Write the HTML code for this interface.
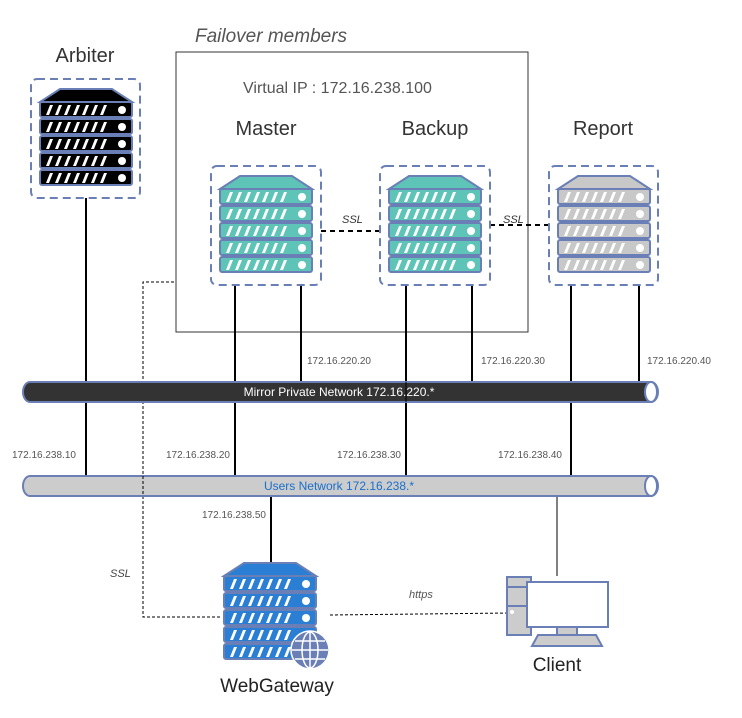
<!DOCTYPE html>
<html><head><meta charset="utf-8"><style>
body{margin:0;background:#fff}
svg{display:block;font-family:"Liberation Sans",sans-serif}
</style></head><body>
<svg width="742" height="718" viewBox="0 0 742 718" xmlns="http://www.w3.org/2000/svg">
<defs>
<g id="stripes" fill="#fff">
<polygon points="6,13 10,3 13,3 9,13"/><polygon points="15,13 19,3 22,3 18,13"/><polygon points="24,13 28,3 31,3 27,13"/><polygon points="33,13 37,3 40,3 36,13"/><polygon points="42,13 46,3 49,3 45,13"/><polygon points="51,13 55,3 58,3 54,13"/><polygon points="60,13 64,3 67,3 63,13"/>
<circle cx="82" cy="8" r="4"/>
</g>
<g id="srv" stroke="#6a7fb5" stroke-width="2">
<polygon points="0,14 20,1 72,1 92,14"/>
<rect x="0" y="14" width="92" height="15" rx="2"/>
<rect x="0" y="31" width="92" height="15" rx="2"/>
<rect x="0" y="48" width="92" height="15" rx="2"/>
<rect x="0" y="65" width="92" height="15" rx="2"/>
<rect x="0" y="82" width="92" height="15" rx="2"/>
</g>
<g id="srvs">
<use href="#stripes" y="14"/><use href="#stripes" y="31"/><use href="#stripes" y="48"/><use href="#stripes" y="65"/><use href="#stripes" y="82"/>
</g>
</defs>

<rect x="176" y="52" width="352" height="280" fill="none" stroke="#333" stroke-width="1"/>
<text x="195" y="42" font-size="19" font-style="italic" fill="#555">Failover members</text>
<text x="243" y="93" font-size="16" fill="#555">Virtual IP : 172.16.238.100</text>
<text x="85" y="62" font-size="20" fill="#333" text-anchor="middle">Arbiter</text>
<text x="266" y="135" font-size="20" fill="#333" text-anchor="middle">Master</text>
<text x="435" y="135" font-size="20" fill="#333" text-anchor="middle">Backup</text>
<text x="603" y="135" font-size="20" fill="#333" text-anchor="middle">Report</text>

<g stroke="#000" stroke-width="2">
<line x1="86" y1="198" x2="86" y2="476"/>
<line x1="235" y1="285" x2="235" y2="476"/>
<line x1="301" y1="285" x2="301" y2="382"/>
<line x1="406" y1="285" x2="406" y2="476"/>
<line x1="472" y1="285" x2="472" y2="382"/>
<line x1="571" y1="285" x2="571" y2="476"/>
<line x1="639" y1="285" x2="639" y2="382"/>
<line x1="271" y1="496" x2="271" y2="563"/>
</g>
<line x1="557" y1="496" x2="557" y2="576" stroke="#000" stroke-width="1"/>

<polyline points="174,282 143,282 143,617 222,617" fill="none" stroke="#000" stroke-width="1" stroke-dasharray="3,2"/>
<text x="110" y="577" font-size="11" font-style="italic" fill="#444">SSL</text>
<line x1="330" y1="615" x2="510" y2="613" stroke="#000" stroke-width="1" stroke-dasharray="3,2"/>
<text x="409" y="598" font-size="11" font-style="italic" fill="#555">https</text>
<line x1="321" y1="231" x2="380" y2="231" stroke="#000" stroke-width="2" stroke-dasharray="5,4"/>
<line x1="490" y1="225" x2="548" y2="225" stroke="#000" stroke-width="2" stroke-dasharray="5,4"/>
<text x="342" y="223" font-size="11" font-style="italic" fill="#333">SSL</text>
<text x="503" y="223" font-size="11" font-style="italic" fill="#333">SSL</text>

<path d="M30,382 H651 A7,10 0 0 1 651,402 H30 A7,10 0 0 1 30,382 Z" fill="#333" stroke="#6a7fb5" stroke-width="2"/>
<ellipse cx="651" cy="392" rx="6" ry="10" fill="#fff" stroke="#6a7fb5" stroke-width="2"/>
<text x="339" y="396" font-size="12" fill="#fff" text-anchor="middle">Mirror Private Network 172.16.220.*</text>
<path d="M30,476 H651 A7,10 0 0 1 651,496 H30 A7,10 0 0 1 30,476 Z" fill="#cccccc" stroke="#6a7fb5" stroke-width="2"/>
<ellipse cx="651" cy="486" rx="6" ry="10" fill="#fff" stroke="#6a7fb5" stroke-width="2"/>
<text x="339" y="490" font-size="12" fill="#1a6fcc" text-anchor="middle">Users Network 172.16.238.*</text>
<line x1="406" y1="382" x2="406" y2="402" stroke="#000" stroke-width="1"/>
<line x1="143" y1="476" x2="143" y2="496" stroke="#000" stroke-width="1" stroke-dasharray="3,2"/>

<g font-size="10" fill="#555">
<text x="307" y="364">172.16.220.20</text>
<text x="481" y="364">172.16.220.30</text>
<text x="647" y="364">172.16.220.40</text>
<text x="12" y="458">172.16.238.10</text>
<text x="166" y="458">172.16.238.20</text>
<text x="337" y="458">172.16.238.30</text>
<text x="498" y="458">172.16.238.40</text>
<text x="202" y="518">172.16.238.50</text>
</g>

<g fill="none" stroke="#6a7fb5" stroke-width="2" stroke-dasharray="8,5">
<rect x="31" y="79" width="109" height="119" rx="6"/>
<rect x="211" y="166" width="110" height="119" rx="6"/>
<rect x="380" y="166" width="110" height="119" rx="6"/>
<rect x="549" y="166" width="109" height="119" rx="6"/>
</g>

<g transform="translate(40,88)"><use href="#srv" fill="#000"/><use href="#srvs"/></g>
<g transform="translate(220,175)"><use href="#srv" fill="#5fc4b8"/><use href="#srvs"/></g>
<g transform="translate(389,175)"><use href="#srv" fill="#5fc4b8"/><use href="#srvs"/></g>
<g transform="translate(558,175)"><use href="#srv" fill="#c8c8c8"/><use href="#srvs"/></g>
<g transform="translate(224,562)"><use href="#srv" fill="#2a7fd4" stroke="#2a7fd4"/><use href="#srvs"/></g>
<g stroke="#fff" stroke-width="1.5" fill="none">
<circle cx="310" cy="650" r="19" fill="#6a7fb5"/>
<ellipse cx="310" cy="650" rx="8" ry="18"/>
<line x1="310" y1="632" x2="310" y2="668"/>
<line x1="292" y1="650" x2="328" y2="650"/>
<line x1="295" y1="641" x2="325" y2="641"/>
<line x1="295" y1="659" x2="325" y2="659"/>
</g>
<text x="277" y="692" font-size="19" fill="#222" text-anchor="middle">WebGateway</text>

<g stroke="#6a7fb5" stroke-width="2">
<rect x="507" y="577" width="24" height="58" fill="#ccc"/>
<line x1="507" y1="587" x2="531" y2="587"/>
<line x1="507" y1="606" x2="531" y2="606"/>
<rect x="527" y="582" width="81" height="45" fill="#fff"/>
<rect x="557" y="627" width="20" height="8" fill="#ccc"/>
<polygon points="538,635 596,635 602,646 532,646" fill="#ccc"/>
</g>
<rect x="531" y="585" width="74" height="39" fill="#fff"/>
<circle cx="512" cy="612" r="2" fill="#fff"/>
<text x="557" y="671" font-size="19" fill="#222" text-anchor="middle">Client</text>
</svg>
</body></html>
